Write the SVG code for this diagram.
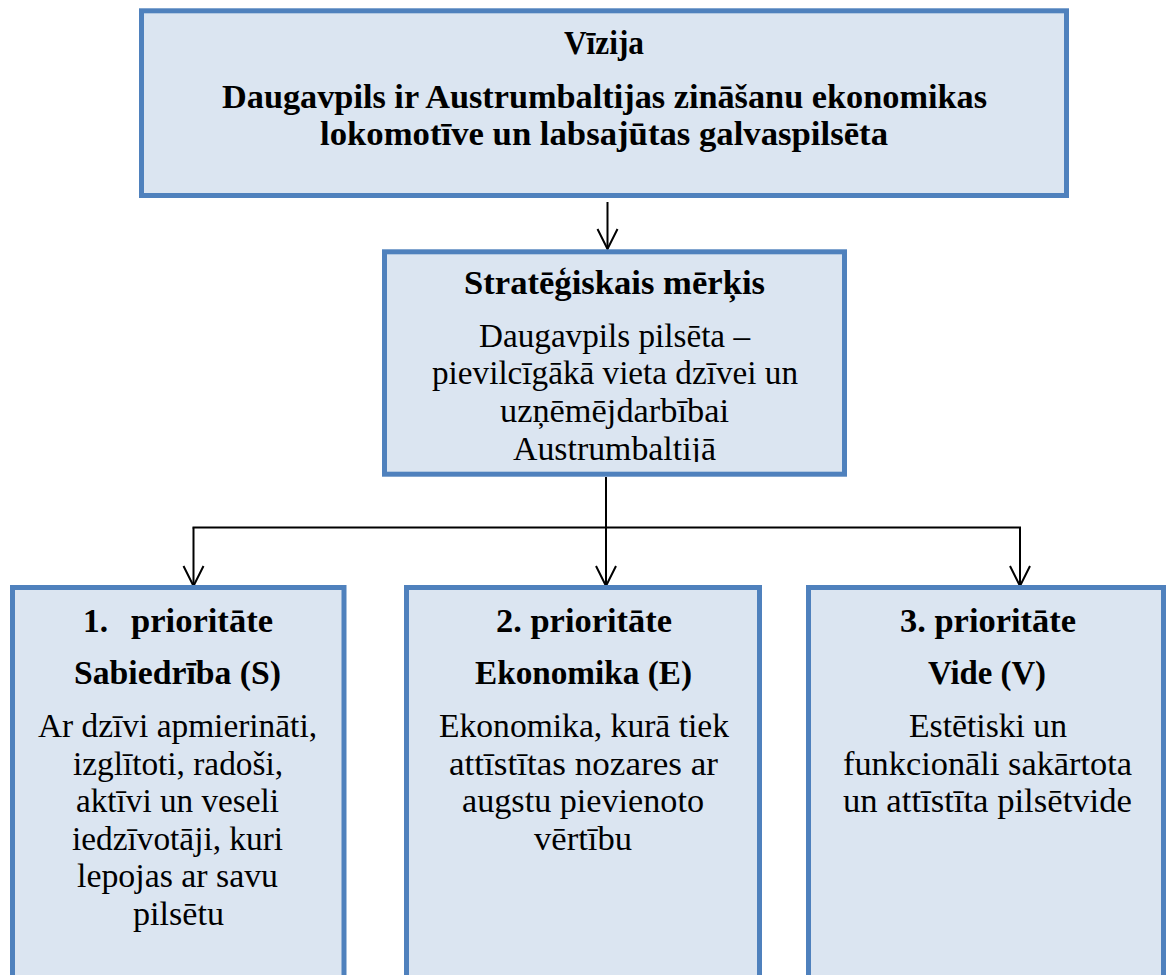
<svg xmlns="http://www.w3.org/2000/svg" width="1166" height="975" viewBox="0 0 1166 975">
<style>
.box{fill:#DBE5F1;stroke:#4F81BD;stroke-width:5}
.t{font-family:"Liberation Serif","Times New Roman",serif;font-size:33px;fill:#000}
.b{font-weight:bold}
.c{fill:none;stroke:#000;stroke-width:2}
</style>
<defs>
<marker id="arr" viewBox="-22 -12 24 24" refX="0" refY="0" markerWidth="24" markerHeight="24" markerUnits="userSpaceOnUse" orient="auto">
<path d="M-20,-10 L0,0 L-20,10" fill="none" stroke="#000" stroke-width="2"/>
</marker>
<clipPath id="midclip"><rect x="387" y="252" width="455" height="210"/></clipPath>
</defs>
<rect width="1166" height="975" fill="#fff"/>
<g id="connectors">
<line class="c" x1="607.5" y1="202" x2="607.5" y2="249" marker-end="url(#arr)"/>
<line class="c" x1="606" y1="477" x2="606" y2="586" marker-end="url(#arr)"/>
<line class="c" x1="192.5" y1="527.5" x2="1021" y2="527.5"/>
<line class="c" x1="193.5" y1="527.5" x2="193.5" y2="586" marker-end="url(#arr)"/>
<line class="c" x1="1020" y1="527.5" x2="1020" y2="586" marker-end="url(#arr)"/>
</g>
<g id="vizija">
<rect class="box" x="141.5" y="10.8" width="925" height="184.7"/>
<text class="t b" x="564" y="54" textLength="80" lengthAdjust="spacingAndGlyphs">Vīzija</text>
<text class="t b" x="222" y="107.5" textLength="765" lengthAdjust="spacingAndGlyphs">Daugavpils ir Austrumbaltijas zināšanu ekonomikas</text>
<text class="t b" x="320" y="145" textLength="568" lengthAdjust="spacingAndGlyphs">lokomotīve un labsajūtas galvaspilsēta</text>
</g>
<g id="merkis">
<rect class="box" x="384.5" y="251.8" width="460" height="222.4"/>
<g clip-path="url(#midclip)">
<text class="t b" x="464" y="294" textLength="301" lengthAdjust="spacingAndGlyphs">Stratēģiskais mērķis</text>
<text class="t" x="479" y="347" textLength="271" lengthAdjust="spacingAndGlyphs">Daugavpils pilsēta –</text>
<text class="t" x="432" y="384" textLength="366" lengthAdjust="spacingAndGlyphs">pievilcīgākā vieta dzīvei un</text>
<text class="t" x="500" y="422" textLength="229" lengthAdjust="spacingAndGlyphs">uzņēmējdarbībai</text>
<text class="t" x="513" y="460" textLength="203" lengthAdjust="spacingAndGlyphs">Austrumbaltijā</text>
</g>
</g>
<g id="prioritate1">
<rect class="box" x="12.5" y="587.5" width="331.5" height="400"/>
<text class="t b" x="83" y="632" textLength="25" lengthAdjust="spacingAndGlyphs">1.</text>
<text class="t b" x="131" y="632" textLength="142" lengthAdjust="spacingAndGlyphs">prioritāte</text>
<text class="t b" x="74" y="684" textLength="207" lengthAdjust="spacingAndGlyphs">Sabiedrība (S)</text>
<text class="t" x="38" y="737" textLength="279" lengthAdjust="spacingAndGlyphs">Ar dzīvi apmierināti,</text>
<text class="t" x="73" y="775" textLength="210" lengthAdjust="spacingAndGlyphs">izglītoti, radoši,</text>
<text class="t" x="76" y="812" textLength="203" lengthAdjust="spacingAndGlyphs">aktīvi un veseli</text>
<text class="t" x="72" y="850" textLength="211" lengthAdjust="spacingAndGlyphs">iedzīvotāji, kuri</text>
<text class="t" x="77" y="887" textLength="201" lengthAdjust="spacingAndGlyphs">lepojas ar savu</text>
<text class="t" x="133" y="925" textLength="91" lengthAdjust="spacingAndGlyphs">pilsētu</text>
</g>
<g id="prioritate2">
<rect class="box" x="406.5" y="587.5" width="353" height="400"/>
<text class="t b" x="496" y="632" textLength="176" lengthAdjust="spacingAndGlyphs">2. prioritāte</text>
<text class="t b" x="475" y="684" textLength="217" lengthAdjust="spacingAndGlyphs">Ekonomika (E)</text>
<text class="t" x="439" y="737" textLength="290" lengthAdjust="spacingAndGlyphs">Ekonomika, kurā tiek</text>
<text class="t" x="449" y="775" textLength="269" lengthAdjust="spacingAndGlyphs">attīstītas nozares ar</text>
<text class="t" x="462" y="812" textLength="242" lengthAdjust="spacingAndGlyphs">augstu pievienoto</text>
<text class="t" x="534" y="850" textLength="98" lengthAdjust="spacingAndGlyphs">vērtību</text>
</g>
<g id="prioritate3">
<rect class="box" x="808.5" y="587.5" width="355" height="400"/>
<text class="t b" x="900" y="632" textLength="176" lengthAdjust="spacingAndGlyphs">3. prioritāte</text>
<text class="t b" x="928" y="684" textLength="118" lengthAdjust="spacingAndGlyphs">Vide (V)</text>
<text class="t" x="909" y="737" textLength="158" lengthAdjust="spacingAndGlyphs">Estētiski un</text>
<text class="t" x="843" y="775" textLength="289" lengthAdjust="spacingAndGlyphs">funkcionāli sakārtota</text>
<text class="t" x="843" y="812" textLength="289" lengthAdjust="spacingAndGlyphs">un attīstīta pilsētvide</text>
</g>
</svg>
